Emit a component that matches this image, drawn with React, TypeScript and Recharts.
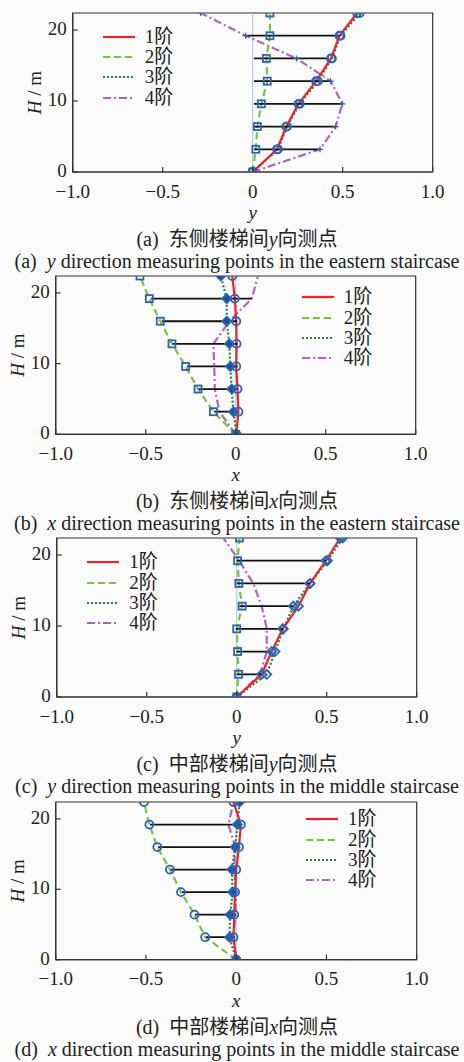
import React from "react";
import {
  ComposedChart,
  Scatter,
  XAxis,
  YAxis,
  ReferenceLine,
  ReferenceArea,
  Legend
} from "recharts";

// heights of the measuring points (m)
const heights = [0, 3.2, 6.4, 9.6, 12.8, 16, 19.2, 22.4];
const floorHeights = [3.2, 6.4, 9.6, 12.8, 16, 19.2];
const xTicks = [-1, -0.5, 0, 0.5, 1];
const hTicks = [0, 10, 20];
const modeNames = ["1阶", "2阶", "3阶", "4阶"];

// (a) eastern staircase, y direction
const aMode1 = [0, 0.135, 0.187, 0.254, 0.352, 0.435, 0.482, 0.58];
const aMode2 = [0, 0.017, 0.026, 0.048, 0.081, 0.076, 0.096, 0.096];
const aMode3 = [0, 0.14, 0.19, 0.262, 0.362, 0.44, 0.488, 0.595];
const aMode4 = [0, 0.374, 0.461, 0.498, 0.433, 0.243, -0.039, -0.289];
const aSegLeft = [0.007, 0.007, 0.007, 0.007, 0.007, -0.039];
const aSegRight = [0.368, 0.46, 0.5, 0.433, 0.424, 0.48];

// (b) eastern staircase, x direction
const bMode1 = [0.003, 0.015, 0.01, 0.003, 0.005, 0.003, -0.005, -0.019];
const bMode2 = [0, -0.124, -0.209, -0.278, -0.354, -0.419, -0.48, -0.532];
const bMode3 = [0.005, -0.013, -0.022, -0.03, -0.035, -0.05, -0.05, -0.083];
const bMode4 = [0, -0.09, -0.116, -0.119, -0.124, -0.035, 0.089, 0.124];
const bSegLeft = [-0.12, -0.205, -0.27, -0.35, -0.41, -0.47];
const bSegRight = [0.015, 0.01, 0.01, 0.01, 0.008, 0.089];

// (c) middle staircase, y direction
const cMode1 = [0, 0.139, 0.194, 0.256, 0.343, 0.407, 0.496, 0.574];
const cMode2 = [0, 0.01, 0.005, 0.0, 0.03, 0.012, 0.005, 0.015];
const cMode3 = [0, 0.167, 0.213, 0.259, 0.315, 0.407, 0.504, 0.589];
const cMode4 = [0, 0.13, 0.167, 0.167, 0.139, 0.092, 0.014, -0.074];
const cSegLeft = [0, 0, -0.005, 0.015, 0, 0];
const cSegRight = [0.139, 0.194, 0.256, 0.315, 0.407, 0.496];

// (d) middle staircase, x direction
const dMode1 = [0, -0.015, -0.011, -0.006, 0, 0.015, 0.026, -0.015];
const dMode2 = [0, -0.172, -0.231, -0.306, -0.367, -0.437, -0.481, -0.511];
const dMode3 = [0, -0.037, -0.033, -0.02, -0.024, -0.006, 0.007, 0.019];
const dMode4 = [0, -0.015, -0.005, 0, -0.012, -0.005, -0.043, -0.015];
const dSegLeft = [-0.167, -0.228, -0.3, -0.362, -0.432, -0.478];
const dSegRight = [-0.006, 0, 0, 0, 0.01, 0.026];

const FONT = "'Liberation Serif', 'Times New Roman', 'Noto Sans CJK SC', serif";
const INK = "#222";
const BLUE = "#2b64b5";
const BOTTOM = 56;

const modeStyles = [
  { stroke: "#f0212b", strokeDasharray: undefined },
  { stroke: "#7cc242", strokeDasharray: "7 4" },
  { stroke: "#1e8a3c", strokeDasharray: "2 2" },
  { stroke: "#b066b8", strokeDasharray: "8 3 2 3" }
];

const fmtX = (v: number) =>
  v === 0 ? "0" : (v < 0 ? "\u2212" : "") + Math.abs(v).toFixed(1);

const XTick = (p: any) => (
  <g>
    <line x1={p.x} x2={p.x} y1={p.y} y2={p.y - 5} stroke="#333" strokeWidth={1.2} />
    <text x={p.x} y={p.y + 25.5} textAnchor="middle" fontSize={19} fontFamily={FONT} fill={INK}>
      {fmtX(p.payload.value)}
    </text>
  </g>
);

const YTick = (p: any) => (
  <g>
    <line x1={p.x} x2={p.x + 5} y1={p.y} y2={p.y} stroke="#333" strokeWidth={1.2} />
    <text x={p.x - 6} y={p.y + 5} textAnchor="end" fontSize={19} fontFamily={FONT} fill={INK}>
      {p.payload.value}
    </text>
  </g>
);

const noShape = () => <g />;

const markerShape = (kind: string | null) => (p: any) => {
  const { cx, cy } = p;
  if (kind === "circle")
    return <circle cx={cx} cy={cy} r={4} fill="none" stroke={BLUE} strokeWidth={1.8} />;
  if (kind === "square")
    return <rect x={cx - 3.5} y={cy - 3.5} width={7} height={7} fill="none" stroke={BLUE} strokeWidth={1.8} />;
  if (kind === "diamond" || kind === "diamondFill")
    return (
      <polygon
        points={`${cx},${cy - 4.5} ${cx + 4.5},${cy} ${cx},${cy + 4.5} ${cx - 4.5},${cy}`}
        fill={kind === "diamondFill" ? "#1f4f99" : "none"}
        stroke={BLUE}
        strokeWidth={1.8}
      />
    );
  if (kind === "plus")
    return (
      <g stroke={BLUE} strokeWidth={1.2}>
        <line x1={cx - 3} x2={cx + 3} y1={cy} y2={cy} />
        <line x1={cx} x2={cx} y1={cy - 3} y2={cy + 3} />
      </g>
    );
  return <g />;
};

const LegendBox = () => (
  <div style={{ fontFamily: FONT, fontSize: 19, color: INK }}>
    {modeNames.map((n, i) => (
      <div key={n} style={{ display: "flex", alignItems: "center", height: 20.3 }}>
        <svg width={32} height={6}>
          <line
            x1={0}
            x2={32}
            y1={3}
            y2={3}
            stroke={modeStyles[i].stroke}
            strokeWidth={2.2}
            strokeDasharray={modeStyles[i].strokeDasharray}
          />
        </svg>
        <span style={{ marginLeft: 10, lineHeight: "20px" }}>{n}</span>
      </div>
    ))}
  </div>
);

interface PanelProps {
  box: { top: number; bottom: number; left: number; right: number };
  modes: number[][];
  segLeft: number[];
  segRight: number[];
  markers: (string | null)[];
  legendAt: { x: number; y: number };
  axisName: string;
  caption1: React.ReactNode;
  caption2: React.ReactNode;
}

const Panel: React.FC<PanelProps> = ({
  box,
  modes,
  segLeft,
  segRight,
  markers,
  legendAt,
  axisName,
  caption1,
  caption2
}) => {
  const chartTop = box.top - 12;
  const chartH = box.bottom - chartTop + BOTTOM;
  const series = modes.map((m) => heights.map((h, i) => ({ x: m[i], h })));
  const segs = floorHeights.map((h, i) => [
    { x: segLeft[i], h },
    { x: segRight[i], h }
  ]);
  const drawOrder = [3, 1, 2, 0];
  const capStyle: React.CSSProperties = {
    position: "absolute",
    left: 237,
    transform: "translateX(-50%)",
    whiteSpace: "pre",
    fontFamily: FONT,
    fontSize: 20,
    lineHeight: "20px",
    color: INK
  };

  return (
    <>
      <div style={{ position: "absolute", left: 0, top: chartTop }}>
        <ComposedChart
          width={464}
          height={chartH}
          margin={{ top: 12, left: 0, right: 464 - box.right, bottom: 0 }}
        >
          <XAxis
            type="number"
            dataKey="x"
            domain={[-1, 1]}
            ticks={xTicks}
            interval={0}
            height={BOTTOM}
            tickSize={0}
            tickMargin={0}
            tick={XTick}
            allowDataOverflow
            stroke="#333"
            strokeWidth={1.2}
            label={{
              content: (lp: any) => (
                <text
                  x={lp.viewBox.x + lp.viewBox.width / 2}
                  y={lp.viewBox.y + 47}
                  textAnchor="middle"
                  fontSize={19}
                  fontStyle="italic"
                  fontFamily={FONT}
                  fill={INK}
                >
                  {axisName}
                </text>
              )
            }}
          />
          <YAxis
            type="number"
            dataKey="h"
            domain={[0, 22.4]}
            ticks={hTicks}
            interval={0}
            width={box.left}
            tickSize={0}
            tickMargin={0}
            tick={YTick}
            allowDataOverflow
            stroke="#333"
            strokeWidth={1.2}
            label={{
              content: (lp: any) => {
                const cx = lp.viewBox.x + lp.viewBox.width - 39;
                const cy = lp.viewBox.y + lp.viewBox.height / 2;
                return (
                  <text
                    x={cx}
                    y={cy}
                    transform={`rotate(-90 ${cx} ${cy})`}
                    textAnchor="middle"
                    dominantBaseline="central"
                    fontSize={19}
                    fontFamily={FONT}
                    fill={INK}
                  >
                    <tspan fontStyle="italic">H</tspan>
                    <tspan> / m</tspan>
                  </text>
                );
              }
            }}
          />
          <ReferenceArea x1={-1} x2={1} y1={0} y2={22.4} fill="none" stroke="#333" strokeWidth={1.2} />
          <ReferenceLine x={0} stroke="#a9c2e6" strokeWidth={1} />
          {drawOrder.map((k) => (
            <Scatter
              key={"line" + k}
              data={series[k]}
              line={{
                stroke: modeStyles[k].stroke,
                strokeWidth: 2.2,
                strokeDasharray: modeStyles[k].strokeDasharray
              }}
              lineType="joint"
              shape={noShape}
              isAnimationActive={false}
            />
          ))}
          {segs.map((s, i) => (
            <Scatter
              key={"seg" + i}
              data={s}
              line={{ stroke: "#111", strokeWidth: 1.8 }}
              lineType="joint"
              shape={noShape}
              isAnimationActive={false}
            />
          ))}
          {drawOrder.map((k) => (
            <Scatter
              key={"mk" + k}
              data={series[k]}
              shape={markerShape(markers[k])}
              isAnimationActive={false}
            />
          ))}
          <Legend
            layout="horizontal"
            verticalAlign="middle"
            align="center"
            wrapperStyle={{ left: legendAt.x, top: legendAt.y - chartTop - 10, width: "auto", height: "auto" }}
            content={<LegendBox />}
          />
        </ComposedChart>
      </div>
      <div style={{ ...capStyle, top: box.bottom + 74 - 17 }}>{caption1}</div>
      <div style={{ ...capStyle, top: box.bottom + 96 - 17 }}>{caption2}</div>
    </>
  );
};

const App: React.FC = () => (
  <div
    style={{
      position: "absolute",
      left: 0,
      top: 0,
      width: 464,
      height: 1062,
      background: "#fbfbfb",
      overflow: "hidden"
    }}
  >
    <Panel
      box={{ top: 13, bottom: 172, left: 72.7, right: 432.7 }}
      modes={[aMode1, aMode2, aMode3, aMode4]}
      segLeft={aSegLeft}
      segRight={aSegRight}
      markers={["circle", "square", "circle", "plus"]}
      legendAt={{ x: 102.7, y: 36.7 }}
      axisName="y"
      caption1={<>(a)  东侧楼梯间<i>y</i>向测点</>}
      caption2={<>(a)  <i>y</i> direction measuring points in the eastern staircase</>}
    />
    <Panel
      box={{ top: 276, bottom: 434.3, left: 55.7, right: 415.7 }}
      modes={[bMode1, bMode2, bMode3, bMode4]}
      segLeft={bSegLeft}
      segRight={bSegRight}
      markers={["circle", "square", "diamondFill", null]}
      legendAt={{ x: 301.7, y: 297.3 }}
      axisName="x"
      caption1={<>(b)  东侧楼梯间<i>x</i>向测点</>}
      caption2={<>(b)  <i>x</i> direction measuring points in the eastern staircase</>}
    />
    <Panel
      box={{ top: 538.3, bottom: 697.3, left: 56.7, right: 416.7 }}
      modes={[cMode1, cMode2, cMode3, cMode4]}
      segLeft={cSegLeft}
      segRight={cSegRight}
      markers={["diamond", "square", "diamond", null]}
      legendAt={{ x: 87.3, y: 562.3 }}
      axisName="y"
      caption1={<>(c)  中部楼梯间<i>y</i>向测点</>}
      caption2={<>(c)  <i>y</i> direction measuring points in the middle staircase</>}
    />
    <Panel
      box={{ top: 802.3, bottom: 960, left: 55.7, right: 416.7 }}
      modes={[dMode1, dMode2, dMode3, dMode4]}
      segLeft={dSegLeft}
      segRight={dSegRight}
      markers={["circle", "circle", "diamondFill", null]}
      legendAt={{ x: 306, y: 819.3 }}
      axisName="x"
      caption1={<>(d)  中部楼梯间<i>x</i>向测点</>}
      caption2={<>(d)  <i>x</i> direction measuring points in the middle staircase</>}
    />
  </div>
);

export default App;
